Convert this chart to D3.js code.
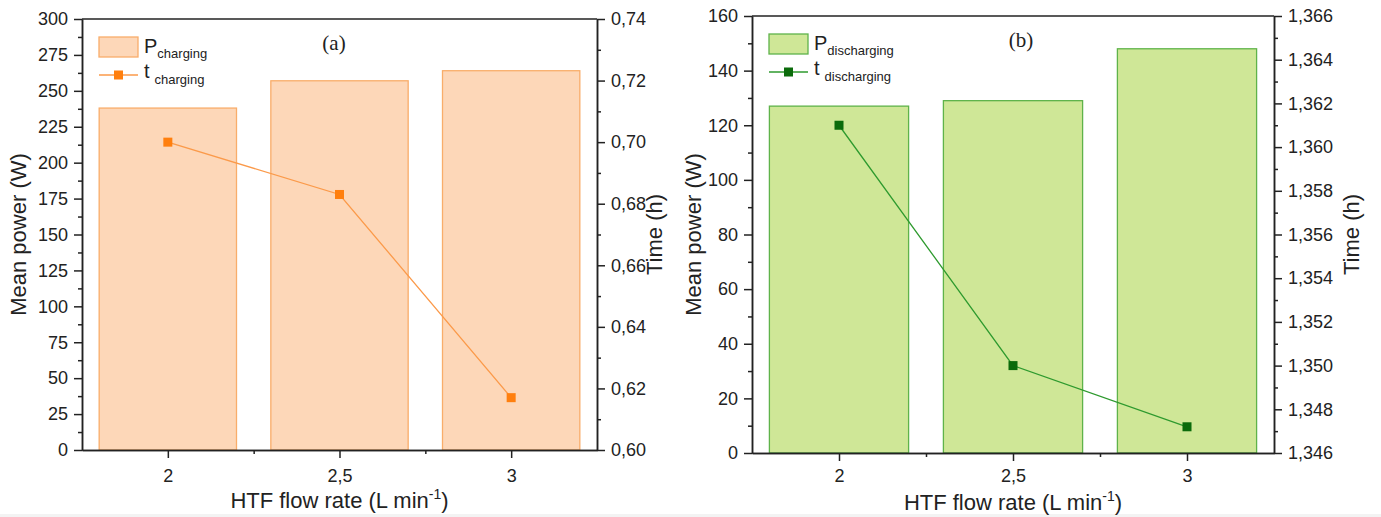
<!DOCTYPE html>
<html>
<head>
<meta charset="utf-8">
<script src="https://cdn.jsdelivr.net/npm/d3@7"></script>
<style>
  body { margin: 0; background: #fff; }
  svg { display: block; font-family: "Liberation Sans", Arial, sans-serif; }
</style>
</head>
<body>
<svg id="chart" width="1381" height="517"></svg>
<script>
// data
const flowRates = [2, 2.5, 3];
const xTickLabels = ["2", "2,5", "3"];
const chargingPower = [238, 257, 264];
const chargingTime = [0.700, 0.683, 0.617];
const dischargingPower = [127, 129, 148];
const dischargingTime = [1.361, 1.350, 1.3472];

const comma = d3.formatLocale({ decimal: ",", thousands: ".", grouping: [3], currency: ["", ""] });

const svg = d3.select("#chart");

// faint strip at the bottom of the scan
svg.append("rect").attr("x", 0).attr("y", 514).attr("width", 1381).attr("height", 3).attr("fill", "#f3f3f3");

const drawPanel = (p) => {
  const x = d3.scaleLinear().domain([1.75, 3.25]).range([p.left, p.right]);
  const yL = d3.scaleLinear().domain(p.powerDomain).range([p.bottom, p.top]);
  const yR = d3.scaleLinear().domain(p.timeDomain).range([p.bottom, p.top]);
  const g = svg.append("g");

  // bars
  g.selectAll("rect.bar")
    .data(flowRates.map((f, i) => ({ f, v: p.power[i] })))
    .join("rect")
    .attr("class", "bar")
    .attr("x", (d) => x(d.f - 0.2))
    .attr("width", (d) => x(d.f + 0.2) - x(d.f - 0.2))
    .attr("y", (d) => yL(d.v))
    .attr("height", (d) => yL(0) - yL(d.v))
    .attr("fill", p.fill)
    .attr("stroke", p.barStroke)
    .attr("stroke-width", 1.3);

  // time line
  const pts = flowRates.map((f, i) => [x(f), yR(p.time[i])]);
  g.append("path")
    .attr("d", d3.line()(pts))
    .attr("fill", "none")
    .attr("stroke", p.lineColor)
    .attr("stroke-width", 1.3);
  g.selectAll("rect.pt")
    .data(pts)
    .join("rect")
    .attr("class", "pt")
    .attr("x", (d) => d[0] - 4.5)
    .attr("y", (d) => d[1] - 4.5)
    .attr("width", 9)
    .attr("height", 9)
    .attr("fill", p.marker);

  // axes
  const styleAxis = (sel) => {
    sel.select(".domain").attr("stroke", "#222").attr("stroke-width", 1.5);
    sel.selectAll(".tick line").attr("stroke", "#222").attr("stroke-width", 1.5);
    sel.selectAll(".tick text").attr("font-size", 18).attr("fill", "#222")
      .attr("font-family", "'Liberation Sans', Arial, sans-serif");
  };
  const minor = (scale, step) => d3.range(scale.domain()[0] + step / 2, scale.domain()[1], step);

  const xAxisG = g.append("g").attr("transform", `translate(0,${p.bottom})`);
  xAxisG.call(d3.axisBottom(x).tickValues(flowRates).tickFormat((d, i) => xTickLabels[i])
    .tickSize(8).tickSizeOuter(0).tickPadding(p.xPad));
  g.append("g").attr("transform", `translate(0,${p.bottom})`)
    .call(d3.axisBottom(x).tickValues([2.25, 2.75]).tickFormat("").tickSize(4).tickSizeOuter(0))
    .call(styleAxis);
  styleAxis(xAxisG);

  const lAxis = g.append("g").attr("transform", `translate(${p.left},0)`)
    .call(d3.axisLeft(yL).tickValues(d3.range(p.powerDomain[0], p.powerDomain[1] + 0.01, p.powerStep))
      .tickSize(8).tickSizeOuter(0).tickPadding(6));
  g.append("g").attr("transform", `translate(${p.left},0)`)
    .call(d3.axisLeft(yL).tickValues(minor(yL, p.powerStep)).tickFormat("").tickSize(4).tickSizeOuter(0))
    .call(styleAxis);
  styleAxis(lAxis);

  const rTicks = d3.range(0, Math.round((p.timeDomain[1] - p.timeDomain[0]) / p.timeStep) + 1)
    .map((k) => p.timeDomain[0] + k * p.timeStep);
  const rAxis = g.append("g").attr("transform", `translate(${p.right},0)`)
    .call(d3.axisRight(yR).tickValues(rTicks).tickFormat(comma.format(p.timeFmt))
      .tickSize(8).tickSizeOuter(0).tickPadding(6));
  g.append("g").attr("transform", `translate(${p.right},0)`)
    .call(d3.axisRight(yR).tickValues(rTicks.slice(0, -1).map((t) => t + p.timeStep / 2))
      .tickFormat("").tickSize(4).tickSizeOuter(0))
    .call(styleAxis);
  styleAxis(rAxis);

  // top frame
  g.append("line")
    .attr("x1", p.left).attr("x2", p.right).attr("y1", p.top).attr("y2", p.top)
    .attr("stroke", "#222").attr("stroke-width", 1.5);

  // titles
  g.append("text")
    .attr("transform", `translate(${p.left - p.leftTitleOff},${(p.top + p.bottom) / 2}) rotate(-90)`)
    .attr("text-anchor", "middle").attr("dy", "0.35em").attr("font-size", 22).attr("fill", "#222")
    .text("Mean power (W)");
  g.append("text")
    .attr("transform", `translate(${p.right + p.rightTitleOff},${(p.top + p.bottom) / 2}) rotate(-90)`)
    .attr("text-anchor", "middle").attr("dy", "0.35em").attr("font-size", 22).attr("fill", "#222")
    .text("Time (h)");
  const xt = g.append("text")
    .attr("x", (p.left + p.right) / 2).attr("y", p.bottom + p.xTitleOff)
    .attr("text-anchor", "middle").attr("font-size", 22).attr("fill", "#222");
  xt.append("tspan").text("HTF flow rate (L min");
  xt.append("tspan").attr("font-size", 14).attr("dy", -9).text("-1");
  xt.append("tspan").attr("dy", 9).text(")");

  g.append("text")
    .attr("x", p.tagX).attr("y", p.top + 31)
    .attr("text-anchor", "middle")
    .attr("font-family", "'Liberation Serif', 'Times New Roman', serif")
    .attr("font-size", 21).attr("fill", "#222")
    .text(p.tag);

  // legend
  const lx = p.left + 17, ly = p.top + 18;
  g.append("rect")
    .attr("x", lx).attr("y", ly).attr("width", 39).attr("height", 20)
    .attr("fill", p.fill).attr("stroke", p.barStroke).attr("stroke-width", 1.3);
  const t1 = g.append("text").attr("x", lx + 45).attr("y", ly + 16).attr("font-size", 20).attr("fill", "#222");
  t1.append("tspan").text("P");
  t1.append("tspan").attr("font-size", 13).attr("dy", 5).text(p.sub);
  g.append("line")
    .attr("x1", lx).attr("x2", lx + 39).attr("y1", ly + 38).attr("y2", ly + 38)
    .attr("stroke", p.lineColor).attr("stroke-width", 1.3);
  g.append("rect")
    .attr("x", lx + 15).attr("y", ly + 33.5).attr("width", 9).attr("height", 9)
    .attr("fill", p.marker);
  const t2 = g.append("text").attr("x", lx + 45).attr("y", ly + 41).attr("font-size", 20).attr("fill", "#222");
  t2.append("tspan").text("t");
  t2.append("tspan").attr("font-size", 13).attr("dx", 5).attr("dy", 6).text(p.sub);
};

drawPanel({
  left: 82, right: 597, top: 19, bottom: 450,
  power: chargingPower, time: chargingTime,
  powerDomain: [0, 300], powerStep: 25,
  timeDomain: [0.60, 0.74], timeStep: 0.02, timeFmt: ".2f",
  fill: "#fdd7b8", barStroke: "#f9ad6a", lineColor: "#fb9a4a", marker: "#ff7f0e",
  tag: "(a)", tagX: 334, sub: "charging",
  leftTitleOff: 64, rightTitleOff: 57, xPad: 11, xTitleOff: 58
});

drawPanel({
  left: 752, right: 1274, top: 16, bottom: 453,
  power: dischargingPower, time: dischargingTime,
  powerDomain: [0, 160], powerStep: 20,
  timeDomain: [1.346, 1.366], timeStep: 0.002, timeFmt: ".3f",
  fill: "#cfe797", barStroke: "#5fb34a", lineColor: "#2e9a2e", marker: "#0b6b0b",
  tag: "(b)", tagX: 1021, sub: "discharging",
  leftTitleOff: 59, rightTitleOff: 77, xPad: 8, xTitleOff: 57
});
</script>
</body>
</html>
